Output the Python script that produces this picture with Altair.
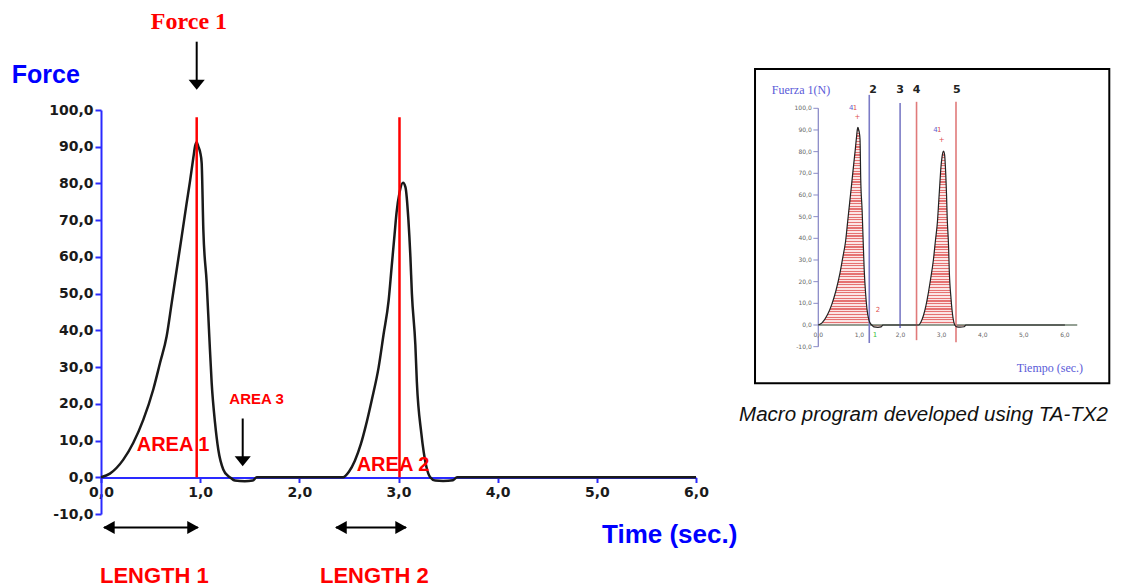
import altair as alt
import pandas as pd

# ---------------- data ----------------
time_s = [0.00, 0.09, 0.225, 0.326, 0.427, 0.527, 0.595, 0.662, 0.713, 0.763,
          0.814, 0.864, 0.897, 0.931, 0.950, 0.965, 0.981, 1.000, 1.015, 1.032,
          1.066, 1.092, 1.116, 1.150, 1.183, 1.233, 1.284, 1.30, 1.35, 1.45,
          1.53, 1.57, 2.44, 2.50, 2.56, 2.62, 2.67, 2.73, 2.80, 2.85,
          2.90, 2.93, 2.96, 2.98, 3.01, 3.045, 3.07, 3.10, 3.12, 3.135,
          3.17, 3.185, 3.23, 3.28, 3.32, 3.37, 3.45, 3.55, 3.59, 6.00]
force_n = [0.0, 1.0, 4.8, 9.4, 15.7, 23.9, 31.1, 38.4, 47.5, 56.5,
           65.6, 74.7, 80.5, 87.0, 90.3, 91.2, 90.1, 88.5, 85.6, 67.4,
           52.9, 38.4, 25.7, 14.8, 7.5, 2.1, 0.3, 0.0, -0.9, -1.1,
           -0.9, 0.0, 0.0, 1.5, 4.5, 9.0, 14.0, 21.0, 30.0, 39.0,
           48.0, 57.0, 66.0, 72.0, 77.5, 80.2, 79.0, 70.0, 60.0, 50.0,
           36.0, 26.0, 12.0, 3.0, 0.0, -0.9, -1.0, -0.8, 0.0, 0.0]

peak_times = [0.965, 3.01]
peak_line_top = 98.0

x_ticks = [0, 1, 2, 3, 4, 5, 6]
y_ticks = [-10, 0, 10, 20, 30, 40, 50, 60, 70, 80, 90, 100]

inset_line_times = [1.24, 1.99, 2.39, 3.35]
inset_line_labels = ["2", "3", "4", "5"]
inset_line_colors = ["#7b7bc6", "#7b7bc6", "#e07a7a", "#e07a7a"]

curve = pd.DataFrame({"t": time_s, "f": force_n})

RED = "#ff0000"
BLUE = "#0000ff"
AXBLUE = "#2a2aff"
comma = ("(datum.value < 0 ? '-' : '') + "
         "replace(format(abs(datum.value), '.1f'), '.', ',')")

# ---------------- main chart scales ----------------
main_x = alt.Scale(domain=[0, 6], nice=False, zero=False)
main_y = alt.Scale(domain=[-10, 100], nice=False, zero=False)


def mx(field="t", axis=None):
    return alt.X(f"{field}:Q", scale=main_x, axis=axis)


def my(field="f", axis=None):
    return alt.Y(f"{field}:Q", scale=main_y, axis=axis)


x_axis = alt.Axis(values=x_ticks, labelExpr=comma, title=None, grid=False,
                  domainColor=AXBLUE, domainWidth=2, tickColor=AXBLUE,
                  tickWidth=2, tickSize=5, labelFont="DejaVu Sans",
                  labelFontWeight="bold", labelFontSize=14,
                  labelColor="#1a1a1a", labelPadding=3, offset=-36.5,
                  labelFlush=False)
y_axis = alt.Axis(values=y_ticks, labelExpr=comma, title=None, grid=False,
                  domainColor=AXBLUE, domainWidth=2, tickColor=AXBLUE,
                  tickWidth=2, tickSize=6, labelFont="DejaVu Sans",
                  labelFontWeight="bold", labelFontSize=14,
                  labelColor="#1a1a1a", labelPadding=2)

curve_line = alt.Chart(curve).mark_line(
    color="#1a1a1a", strokeWidth=2.5, interpolate="monotone").encode(
    x=mx(axis=x_axis), y=my(axis=y_axis))

peak_rules = alt.Chart(pd.DataFrame({
    "t": peak_times, "f": [0.0] * len(peak_times),
    "f2": [peak_line_top] * len(peak_times)})).mark_rule(
    color=RED, strokeWidth=2.5).encode(x=mx(), y=my(), y2="f2:Q")

shafts = alt.Chart(pd.DataFrame({
    "t": [0.965, 1.429, 0.03, 2.37],
    "t2": [0.965, 1.429, 0.975, 3.076],
    "f": [118.6, 16.0, -13.7, -13.7],
    "f2": [107.6, 5.5, -13.7, -13.7]})).mark_rule(
    color="black", strokeWidth=2).encode(x=mx(), x2="t2:Q", y=my(), y2="f2:Q")

head_down = alt.Chart(pd.DataFrame({"t": [0.965, 1.429], "f": [105.5, 3.0]})).mark_point(
    shape="M0,0L-1,-1.25L1,-1.25Z", filled=True, color="black", opacity=1,
    size=260).encode(x=mx(), y=my())
head_left = alt.Chart(pd.DataFrame({"t": [0.02, 2.36], "f": [-13.7, -13.7]})).mark_point(
    shape="M0,0L1.8,-1L1.8,1Z", filled=True, color="black", opacity=1,
    size=169).encode(x=mx(), y=my())
head_right = alt.Chart(pd.DataFrame({"t": [0.988, 3.086], "f": [-13.7, -13.7]})).mark_point(
    shape="M0,0L-1.8,-1L-1.8,1Z", filled=True, color="black", opacity=1,
    size=169).encode(x=mx(), y=my())

red_labels = alt.Chart(pd.DataFrame({
    "label": ["AREA 1", "AREA 2", "AREA 3", "LENGTH 1", "LENGTH 2"],
    "t": [0.36, 2.578, 1.294, -0.01, 2.208],
    "f": [7.07, 1.63, 20.05, -28.7, -28.7],
    "s": [20, 20, 15, 22, 22]})).mark_text(
    align="left", baseline="alphabetic", font="Liberation Sans",
    fontWeight="bold", color=RED).encode(
    x=mx(), y=my(), text="label:N", size=alt.Size("s:Q", scale=None))

force1_label = alt.Chart(pd.DataFrame({"label": ["Force 1"], "t": [0.887], "f": [122.0]})).mark_text(
    align="center", baseline="alphabetic", font="Liberation Serif",
    fontWeight="bold", fontSize=24, color=RED).encode(x=mx(), y=my(), text="label:N")

blue_titles = alt.Chart(pd.DataFrame({
    "label": ["Force", "Time (sec.)"],
    "t": [-0.90, 5.052], "f": [107.3, -17.85], "s": [25, 26]})).mark_text(
    align="left", baseline="alphabetic", font="Liberation Sans",
    fontWeight="bold", color=BLUE).encode(
    x=mx(), y=my(), text="label:N", size=alt.Size("s:Q", scale=None))

caption = alt.Chart(pd.DataFrame({
    "label": ["Macro program developed using TA-TX2"],
    "t": [8.294], "f": [15.24]})).mark_text(
    align="center", baseline="alphabetic", font="Liberation Sans",
    fontStyle="italic", fontSize=20.5, color="#111111").encode(
    x=mx(), y=my(), text="label:N")

main_layers = [curve_line, peak_rules, shafts, head_down, head_left,
               head_right, red_labels, force1_label, blue_titles, caption]

# ---------------- inset (screenshot of the macro program) ----------------
inset_x = alt.Scale(domain=[-17.453, -2.976], nice=False, zero=False)
inset_y = alt.Scale(domain=[-87.22, 99.22], nice=False, zero=False)


def ix(field="t"):
    return alt.X(f"{field}:Q", scale=inset_x, axis=None)


def iy(field="f"):
    return alt.Y(f"{field}:Q", scale=inset_y, axis=None)


box = alt.Chart(pd.DataFrame({"t": [-1.54], "t2": [7.08], "f": [118.1], "f2": [-26.9]})).mark_rect(
    fill="white", stroke="black", strokeWidth=2).encode(
    x=ix(), x2="t2:Q", y=iy(), y2="f2:Q")

# horizontal red hatching of the integrated areas (striped gradient fill)
n_stripes = 74
stops = []
for i in range(n_stripes):
    a = i / n_stripes
    b = (i + 0.45) / n_stripes
    c = (i + 1) / n_stripes
    stops += [alt.GradientStop(offset=a, color="#e46a6a"),
              alt.GradientStop(offset=b, color="#e46a6a"),
              alt.GradientStop(offset=b, color="#fbe3e3"),
              alt.GradientStop(offset=c, color="#fbe3e3")]
hatch = alt.LinearGradient(gradient="linear", stops=stops, x1=0, x2=0, y1=0, y2=1)

inset_area = alt.Chart(curve).mark_area(color=hatch, opacity=0.95,
                                        interpolate="monotone").encode(
    x=ix(), y=iy(), y2=alt.datum(0))

inset_yaxis = alt.Chart(pd.DataFrame({"t": [0.0], "f": [-10.0], "f2": [100.0]})).mark_rule(
    color="#8c8cc8", strokeWidth=1.3).encode(x=ix(), y=iy(), y2="f2:Q")
inset_xaxis = alt.Chart(pd.DataFrame({"t": [0.0], "t2": [6.3], "f": [0.0]})).mark_rule(
    color="#708070", strokeWidth=1.3).encode(x=ix(), x2="t2:Q", y=iy())

inset_yticks = alt.Chart(pd.DataFrame({"value": y_ticks})).transform_calculate(
    t="-0.12", t2="0").mark_rule(color="#8c8cc8", strokeWidth=1).encode(
    x=ix(), x2="t2:Q", y=iy("value"))
inset_ylabels = alt.Chart(pd.DataFrame({"value": y_ticks})).transform_calculate(
    t="-0.16", lab=comma).mark_text(
    align="right", baseline="middle", font="DejaVu Sans", fontSize=6,
    color="#666666").encode(x=ix(), y=iy("value"), text="lab:N")
inset_xlabels = alt.Chart(pd.DataFrame({"value": x_ticks})).transform_calculate(
    f="-4.6", lab=comma).mark_text(
    align="center", baseline="middle", font="DejaVu Sans", fontSize=6,
    color="#666666").encode(x=ix("value"), y=iy(), text="lab:N")

inset_vlines = alt.Chart(pd.DataFrame({
    "t": inset_line_times, "c": inset_line_colors,
    "f": [-8.3, -1.4, -7.0, -8.0], "f2": [106.2, 102.4, 103.0, 103.0]})).mark_rule(
    strokeWidth=1.6).encode(x=ix(), y=iy(), y2="f2:Q", color=alt.Color("c:N", scale=None))
inset_vlabels = alt.Chart(pd.DataFrame({
    "t": [1.33, 1.99, 2.39, 3.37], "label": inset_line_labels})).transform_calculate(
    f="108.4").mark_text(
    align="center", baseline="middle", font="DejaVu Sans", fontWeight="bold",
    fontSize=11, color="#222222").encode(x=ix(), y=iy(), text="label:N")

inset_curve = alt.Chart(curve).mark_line(color="#222222", strokeWidth=1.2,
                                         interpolate="monotone").encode(
    x=ix(), y=iy())

inset_titles = alt.Chart(pd.DataFrame({
    "label": ["Fuerza 1(N)", "Tiempo (sec.)"],
    "t": [-1.13, 4.83], "f": [108.4, -19.8]})).mark_text(
    align="left", baseline="middle", font="Liberation Serif", fontSize=12,
    color="#5a5ad8").encode(x=ix(), y=iy(), text="label:N")

inset_marks = alt.Chart(pd.DataFrame({
    "label": ["+", "+", "1", "4", "4", "1", "1", "2"],
    "t": [0.95, 3.0, 1.38, 0.80, 2.85, 0.89, 2.94, 1.45],
    "f": [96.0, 85.5, -4.6, 100.1, 90.0, 100.1, 90.0, 6.9],
    "c": ["#e05050", "#e05050", "#40c040", "#6060d0", "#6060d0",
          "#e05050", "#e05050", "#e05050"]})).mark_text(
    align="center", baseline="middle", font="DejaVu Sans", fontSize=7).encode(
    x=ix(), y=iy(), text="label:N", color=alt.Color("c:N", scale=None))

inset_layers = [box, inset_area, inset_yaxis, inset_xaxis, inset_yticks,
                inset_ylabels, inset_xlabels, inset_vlines, inset_vlabels,
                inset_curve, inset_titles, inset_marks]

# every layer carries its own explicit scale domain, so independent scales
# reproduce the same mapping for all main layers and for all inset layers
chart = alt.layer(*(inset_layers + main_layers)).resolve_scale(
    x="independent", y="independent").properties(
    width=595, height=404,
    padding={"left": 101, "top": 110, "right": 429, "bottom": 74},
    autosize=alt.AutoSizeParams(type="none"),
    background="white").configure_view(strokeWidth=0)

chart.save("out.html", embed_options={"renderer": "svg", "actions": False})
